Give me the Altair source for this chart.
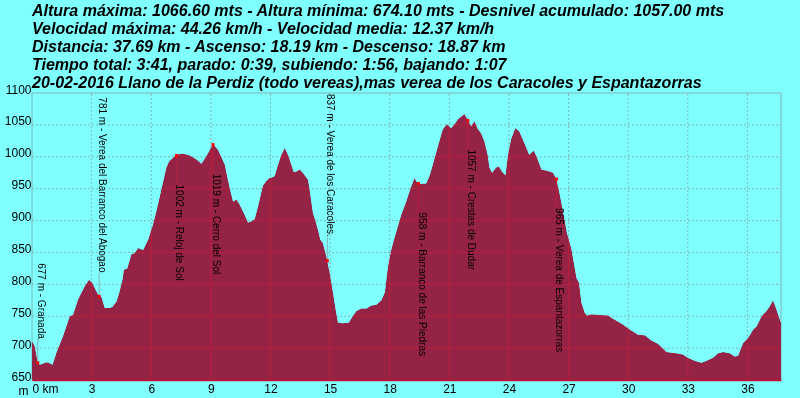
import altair as alt
import pandas as pd

# ---------------- data ----------------
header_lines = [
    "Altura máxima: 1066.60 mts - Altura mínima: 674.10 mts - Desnivel acumulado: 1057.00 mts",
    "Velocidad máxima: 44.26 km/h - Velocidad media: 12.37 km/h",
    "Distancia: 37.69 km - Ascenso: 18.19 km - Descenso: 18.87 km",
    "Tiempo total: 3:41, parado: 0:39, subiendo: 1:56, bajando: 1:07",
    "20-02-2016 Llano de la Perdiz (todo vereas),mas verea de los Caracoles y Espantazorras",
]

dist_km = [
    0.00, 0.14, 0.29, 0.39, 0.72, 0.86, 1.03, 1.23, 1.56, 1.90, 2.06, 2.31, 2.65, 2.87,
    3.04, 3.24, 3.38, 3.49, 3.66, 3.91, 4.05, 4.25, 4.39, 4.55, 4.62, 4.79, 5.00, 5.17,
    5.34, 5.59, 5.84, 6.06, 6.26, 6.51, 6.76, 6.90, 7.27, 7.60, 7.94, 8.27, 8.52, 8.77,
    9.11, 9.36, 9.70, 9.95, 10.12, 10.29, 10.45, 10.70, 10.87, 11.04, 11.20, 11.37, 11.62,
    11.79, 11.96, 12.05, 12.21, 12.38, 12.55, 12.72, 12.88, 13.05, 13.17, 13.30, 13.47,
    13.63, 13.89, 13.97, 14.14, 14.27, 14.39, 14.51, 14.64, 14.81, 14.86, 14.98, 15.18,
    15.31, 15.40, 15.65, 15.95, 16.07, 16.32, 16.57, 16.82, 17.07, 17.33, 17.58, 17.75,
    17.91, 18.08, 18.33, 18.58, 18.83, 19.03, 19.25, 19.33, 19.45, 19.67, 19.83, 20.00,
    20.17, 20.42, 20.67, 20.87, 21.09, 21.26, 21.43, 21.60, 21.76, 21.93, 22.10, 22.26,
    22.43, 22.60, 22.77, 22.93, 23.02, 23.15, 23.35, 23.49, 23.65, 23.82, 23.94, 24.10,
    24.32, 24.52, 24.77, 25.02, 25.25, 25.42, 25.64, 25.80, 26.05, 26.22, 26.39, 26.56,
    26.72, 26.92, 27.15, 27.40, 27.53, 27.65, 27.82, 27.93, 28.15, 28.99, 29.24, 29.74,
    30.08, 30.50, 30.84, 31.17, 31.50, 31.76, 31.93, 32.43, 32.76, 33.00, 33.35, 33.69,
    33.94, 34.27, 34.52, 34.78, 35.11, 35.36, 35.53, 35.78, 36.03, 36.29, 36.46, 36.71,
    36.96, 37.13, 37.29, 37.46, 37.66, 37.69,
]
elev_m = [
    711, 703, 678, 674, 678, 677, 674, 693, 719, 750, 752, 776, 797, 807,
    802, 789, 781, 781, 763, 763, 765, 773, 787, 807, 823, 825, 847, 849,
    857, 854, 870, 891, 915, 949, 983, 993, 1003, 1005, 1002, 996, 989, 1001,
    1020, 1011, 988, 951, 930, 933, 925, 909, 897, 899, 902, 922, 955,
    962, 967, 967, 970, 988, 1003, 1014, 1003, 988, 976, 977, 980,
    975, 964, 949, 912, 899, 886, 870, 865, 844, 837, 818, 781,
    755, 740, 739, 740, 747, 758, 762, 762, 767, 768, 775, 787,
    828, 855, 883, 909, 930, 949, 967, 962, 957, 958, 958, 970,
    988, 1016, 1043, 1051, 1045, 1051, 1059, 1063, 1067, 1058, 1048, 1056,
    1044, 1037, 1024, 1003, 983, 975, 983, 985, 977, 971, 1001, 1027,
    1045, 1040, 1022, 1003, 1010, 998, 980, 979, 977, 975, 965, 941,
    915, 881, 855, 810, 802, 771, 755, 751, 753, 751, 746, 737,
    729, 721, 720, 712, 707, 699, 694, 692, 690, 685, 680, 677,
    680, 685, 692, 694, 692, 687, 688, 708, 716, 729, 734, 750,
    758, 766, 775, 761, 742, 740,
]

wp_km = [0.29, 3.38, 7.27, 9.11, 14.86, 19.45, 21.93, 26.39]
wp_elev = [677, 781, 1002, 1019, 837, 958, 1057, 965]
wp_name = [
    "Granada", "Verea del Barranco del Abogao", "Reloj de Sol", "Cerro del Sol",
    "Verea de los Caracoles.", "Barranco de las Piedras", "Crestas de Dudar",
    "Verea de Espantazorras",
]
wp_side = ["above", "above", "below", "below", "above", "below", "below", "below"]

x_ticks = list(range(0, 37, 3))
y_ticks = list(range(650, 1101, 50))

# ---------------- layout / style ----------------
W, H = 749, 287
X_MAX = 37.69
Y_MIN, Y_MAX = 650, 1100
M_PER_PX = (Y_MAX - Y_MIN) / H
GAP_ABOVE, GAP_BELOW = 24, 29

BG = "#80FFFF"
FILL = "#942346"
RED_GRID = "#BC1F3C"
GRAY_GRID = "#B4B4B4"
FONT = "Liberation Sans"

profile = pd.DataFrame({"km": dist_km, "elev": elev_m})
wps = pd.DataFrame({"km": wp_km, "elev": wp_elev, "side": wp_side})
wps["label"] = [f"{e} m - {n}" for e, n in zip(wp_elev, wp_name)]

rows = []
for v in y_ticks[1:-1]:
    rows.append({"km": 0.0, "km2": X_MAX, "elev": v, "elev2": v, "kind": "grid"})
for v in x_ticks[1:]:
    rows.append({"km": v, "km2": v, "elev": Y_MIN, "elev2": Y_MAX, "kind": "grid"})
rows.append({"km": 0.0, "km2": X_MAX, "elev": Y_MAX, "elev2": Y_MAX, "kind": "frame"})
rows.append({"km": 0.0, "km2": 0.0, "elev": Y_MIN, "elev2": Y_MAX, "kind": "frame"})
rows.append({"km": X_MAX, "km2": X_MAX, "elev": Y_MIN, "elev2": Y_MAX, "kind": "frame"})
for k, e, s in zip(wp_km, wp_elev, wp_side):
    end = e + GAP_ABOVE * M_PER_PX if s == "above" else e - GAP_BELOW * M_PER_PX
    rows.append({"km": k, "km2": k, "elev": e, "elev2": end, "kind": "link"})
rules = pd.DataFrame(rows)

xscale = alt.Scale(domain=[0, X_MAX], nice=False, zero=False)
yscale = alt.Scale(domain=[Y_MIN, Y_MAX], nice=False, zero=False)

x_axis = alt.Axis(
    values=x_ticks, grid=False, ticks=False, tickSize=0, domain=True,
    domainColor="#C8102E", domainWidth=1.5, labelFont=FONT, labelFontSize=12,
    labelColor="black", labelPadding=3, title=None, zindex=1, format="d",
    labelExpr="datum.value == 0 ? '0 km' : datum.label",
    labelAlign={"condition": {"test": "datum.value == 0", "value": "left"}, "value": "center"},
)
y_axis = alt.Axis(
    values=y_ticks, grid=False, ticks=False, tickSize=0, domain=False, format="d",
    labelFont=FONT, labelFontSize=12, labelColor="black", labelPadding=1,
    labelBaseline="alphabetic", title="m", titleAngle=0, titleX=-14, titleY=301,
    titleAlign="left", titleBaseline="alphabetic", titleFont=FONT, titleFontSize=12,
    titleFontWeight="normal", titleColor="black", zindex=1,
)

X = alt.X("km:Q", scale=xscale, axis=x_axis)
Y = alt.Y("elev:Q", scale=yscale, axis=y_axis)

ground = alt.Chart(profile).mark_area(color=FILL, opacity=1, interpolate="linear").encode(
    x=X, y=Y, y2=alt.datum(Y_MIN)
)

red_rules = alt.Chart(rules).transform_filter("datum.kind != 'frame'").mark_rule(
    color=RED_GRID, strokeWidth=1
).encode(x=X, x2="km2:Q", y=Y, y2="elev2:Q")

sky = alt.Chart(profile).mark_area(color=BG, opacity=1, interpolate="linear").encode(
    x=X, y=Y, y2=alt.datum(Y_MAX)
)

gray_grid = alt.Chart(rules).transform_filter("datum.kind == 'grid'").mark_rule(
    color=GRAY_GRID, strokeWidth=1, strokeDash=[2, 2], blend="darken"
).encode(x=X, x2="km2:Q", y=Y, y2="elev2:Q")

gray_solid = alt.Chart(rules).transform_filter("datum.kind != 'grid'").mark_rule(
    color=GRAY_GRID, strokeWidth=1, blend="darken"
).encode(x=X, x2="km2:Q", y=Y, y2="elev2:Q")

dots = alt.Chart(wps).mark_square(color="#FF0000", size=9, opacity=1).encode(x=X, y=Y)

txt_above = alt.Chart(wps).transform_filter("datum.side == 'above'").mark_text(
    angle=90, align="right", baseline="alphabetic", dx=-GAP_ABOVE, font=FONT,
    fontSize=10, color="black"
).encode(x=X, y=Y, text="label:N")

txt_below = alt.Chart(wps).transform_filter("datum.side == 'below'").mark_text(
    angle=90, align="left", baseline="alphabetic", dx=GAP_BELOW, font=FONT,
    fontSize=10, color="black"
).encode(x=X, y=Y, text="label:N")

chart = alt.layer(
    ground, red_rules, sky, gray_grid, gray_solid, dots, txt_above, txt_below
).properties(
    width=W, height=H,
    title=alt.TitleParams(
        text=header_lines, anchor="start", frame="group", font=FONT, fontSize=16,
        fontStyle="italic", fontWeight="bold", lineHeight=18, color="black",
        offset=0, dy=8,
    ),
    autosize=alt.AutoSizeParams(type="none"),
    padding={"left": 32, "top": 93, "right": 19, "bottom": 18},
    background=BG,
).configure_view(fill=BG, strokeWidth=0, stroke=None)

chart.save("out.html", embed_options={"renderer": "svg", "actions": False})
